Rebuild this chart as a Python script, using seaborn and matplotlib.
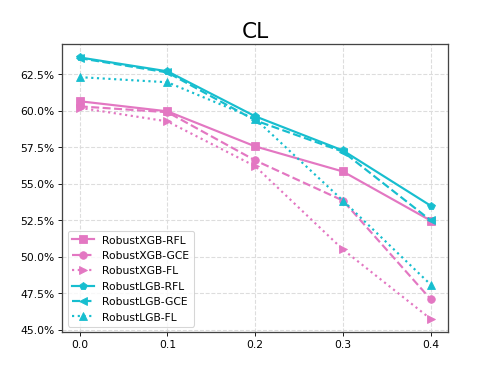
import pandas as pd
import numpy as np
import seaborn as sns
import matplotlib.pyplot as plt

# Noise rates on the x axis
noise = [0.0, 0.1, 0.2, 0.3, 0.4]

# Accuracy (%) per method
xgb_rfl = [60.65, 59.96, 57.56, 55.84, 52.48]
xgb_gce = [60.30, 59.90, 56.60, 53.85, 47.10]
xgb_fl = [60.20, 59.27, 56.20, 50.50, 45.75]
lgb_rfl = [63.65, 62.70, 59.62, 57.28, 53.50]
lgb_gce = [63.60, 62.62, 59.34, 57.20, 52.50]
lgb_fl = [62.30, 61.95, 59.45, 53.85, 48.10]

series = [
    ("RobustXGB-RFL", xgb_rfl, "#e377c2", "s", "-"),
    ("RobustXGB-GCE", xgb_gce, "#e377c2", "o", "--"),
    ("RobustXGB-FL", xgb_fl, "#e377c2", ">", ":"),
    ("RobustLGB-RFL", lgb_rfl, "#17becf", "p", "-"),
    ("RobustLGB-GCE", lgb_gce, "#17becf", "<", "--"),
    ("RobustLGB-FL", lgb_fl, "#17becf", "^", ":"),
]

fig, ax = plt.subplots(figsize=(6.4, 4.8), dpi=77.8)

for name, vals, color, marker, ls in series:
    df = pd.DataFrame({"noise": noise, "acc": vals})
    sns.lineplot(data=df, x="noise", y="acc", ax=ax, color=color, marker=marker,
                 linestyle=ls, linewidth=2, markersize=7, markeredgecolor=color,
                 label=name)

ax.set_xticks(noise)
ax.set_xticklabels([f"{v:.1f}" for v in noise])
ax.yaxis.set_major_formatter(plt.FuncFormatter(lambda v, p: f"{v:.1f}%"))
ax.set_xlabel("")
ax.set_ylabel("")
ax.grid(True, linestyle="--", color="#dddddd", linewidth=1)
ax.set_axisbelow(True)
for sp in ax.spines.values():
    sp.set_color("#444444")
    sp.set_linewidth(1.2)
ax.set_title("CL", fontsize=20)
ax.legend(loc="lower left", fontsize=10)

plt.savefig("out.png", dpi=77.8)
